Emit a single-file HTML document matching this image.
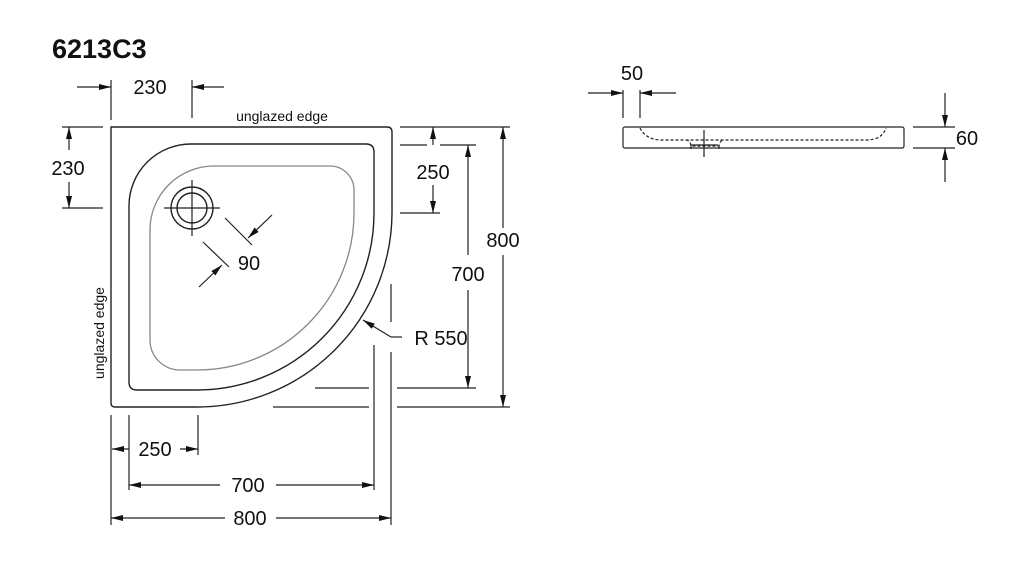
<!DOCTYPE html>
<html><head><style>body{margin:0;background:#fff}svg{display:block}</style></head><body>
<svg width="1024" height="584" viewBox="0 0 1024 584" xmlns="http://www.w3.org/2000/svg" font-family="Liberation Sans, sans-serif">
<defs>
<marker id="a" viewBox="0 0 12 6" refX="12" refY="3" markerWidth="12" markerHeight="6" markerUnits="userSpaceOnUse" orient="auto"><path d="M0,0 L12,3 L0,6 Z" fill="#111"/></marker>
</defs>
<text x="52" y="58" font-size="27" font-weight="bold" fill="#111">6213C3</text>
<g fill="none" stroke="#222" stroke-width="1.4">
<!-- outer -->
<path d="M111,127 L387,127 Q392,127 392,132 L392,213 A195,195 0 0 1 197,407 L115,407 Q111,407 111,403 Z"/>
<!-- inner rim -->
<path d="M129,205 A62,62 0 0 1 191,144 L366,144 Q374,144 374,152 L374,213 A177,177 0 0 1 197,390 L137,390 Q129,390 129,382 Z"/>
<!-- drain -->
<circle cx="192" cy="208" r="21"/><circle cx="192" cy="208" r="15"/>
<path d="M164,208 H220 M192,180 V236" stroke-width="1.2"/>
</g>
<path d="M150,230 A64,64 0 0 1 214,166 L330,166 A24,24 0 0 1 354,190 L354,213 A157,157 0 0 1 197,370 L180,370 A30,30 0 0 1 150,340 Z" fill="none" stroke="#888" stroke-width="1.3"/>
<g stroke="#222" stroke-width="1.2" fill="none">
<!-- 90 -->
<path d="M225,218 L252,245 M203,242 L229,267"/>
<path d="M272,215 L248,238" marker-end="url(#a)"/>
<path d="M199,287 L222,265" marker-end="url(#a)"/>
<!-- top 230 -->
<path d="M111,80 V120 M192,80 V118"/>
<path d="M77,87 H111" marker-end="url(#a)"/><path d="M224,87 H192" marker-end="url(#a)"/>
<!-- left 230 -->
<path d="M62,127 H103 M62,208 H103"/>
<path d="M69,150 V127" marker-end="url(#a)"/><path d="M69,182 V208" marker-end="url(#a)"/>
<!-- right dims ext lines -->
<path d="M400,127 H510 M400,145 H427 M440,145 H476 M400,213 H440"/>
<path d="M315,388 H369 M397,388 H476 M273,407 H369 M397,407 H510"/>
<path d="M433,145 V127" marker-end="url(#a)"/><path d="M433,185 V213" marker-end="url(#a)"/>
<path d="M468,255 V145" marker-end="url(#a)"/><path d="M468,290 V388" marker-end="url(#a)"/>
<path d="M503,228 V127" marker-end="url(#a)"/><path d="M503,255 V407" marker-end="url(#a)"/>
<!-- R550 leader -->
<path d="M391,337 L363,320" marker-end="url(#a)"/><path d="M391,337 H402"/>
<path d="M391,284 V322 M391,352 V525 M374,345 V490"/>
<!-- bottom ext -->
<path d="M111,415 V525 M129,415 V490 M198,415 V455"/>
<path d="M129,449 H112" marker-end="url(#a)"/><path d="M180,449 H198" marker-end="url(#a)"/>
<path d="M220,485 H129" marker-end="url(#a)"/><path d="M276,485 H374" marker-end="url(#a)"/>
<path d="M225,518 H111" marker-end="url(#a)"/><path d="M276,518 H391" marker-end="url(#a)"/>
<!-- side view -->
<rect x="623" y="127" width="281" height="21" rx="2"/>
<path d="M640,128 Q646,140 662,140 L866,140 Q882,140 886,128 M686,140 Q690,140 691,146 L719,146 Q720,140 724,140 M691,146 V149 M719,146 V149" stroke-dasharray="3,2"/>
<path d="M704,130 V157 M690,145 H718"/>
<path d="M623,90 V118 M640,90 V118"/>
<path d="M588,93 H623" marker-end="url(#a)"/><path d="M676,93 H640" marker-end="url(#a)"/>
<path d="M913,127 H955 M913,148 H955"/>
<path d="M945,93 V127" marker-end="url(#a)"/><path d="M945,182 V148" marker-end="url(#a)"/>
</g>
<g fill="#111" font-size="20" text-anchor="middle">
<text x="150" y="94">230</text>
<text x="68" y="175">230</text>
<text x="433" y="179">250</text>
<text x="468" y="281">700</text>
<text x="503" y="247">800</text>
<text x="441" y="345">R 550</text>
<text x="155" y="456">250</text>
<text x="248" y="492">700</text>
<text x="250" y="525">800</text>
<text x="632" y="80">50</text>
<text x="967" y="145">60</text>
<text x="249" y="270">90</text>
</g>
<text x="282" y="121" font-size="14" text-anchor="middle" fill="#111">unglazed edge</text>
<text transform="translate(104,333) rotate(-90)" font-size="14" text-anchor="middle" fill="#111">unglazed edge</text>
</svg>
</body></html>
